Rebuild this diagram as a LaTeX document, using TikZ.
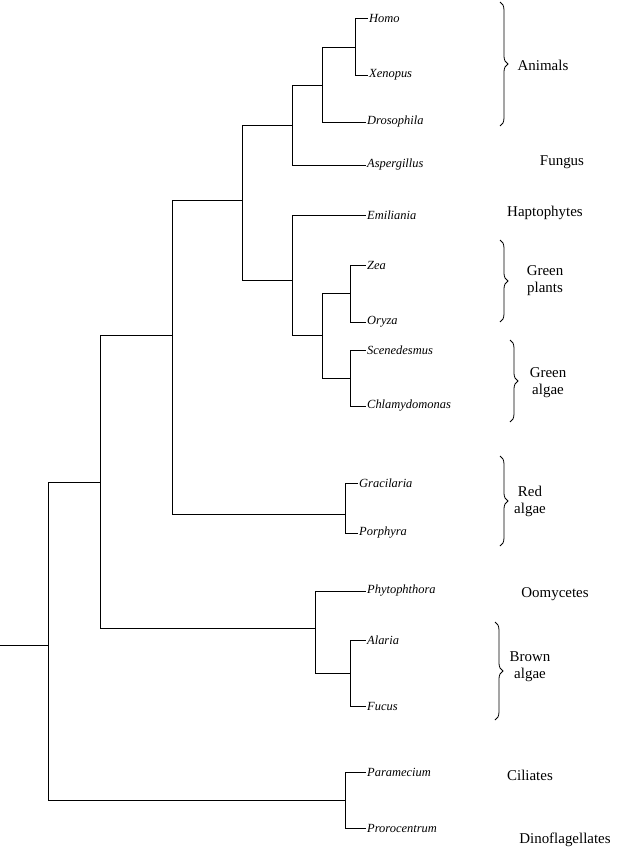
\documentclass[tikz,border=0pt]{standalone}
\usepackage{fontspec}
\setmainfont{Liberation Serif}
\usetikzlibrary{decorations.pathreplacing}
\tikzset{
	taxon/.style={anchor=west, inner sep=1pt, font=\itshape\fontsize{12.5}{14}\selectfont},
	group/.style={align=center, font=\fontsize{15}{17}\selectfont},
	clade/.style={draw, thick, decorate, decoration={brace, amplitude=8pt}},
}
\begin{document}
\begin{tikzpicture}[x=1bp, y=-1bp]
	\useasboundingbox (0,0) rectangle (625,853);
	% leaves
	\node (homo) [taxon] at (368,18) {Homo};
	\node (xeno) [taxon] at (368,75) {Xenopus};
	\node (dros) [taxon] at (366,122) {Drosophila};
	\node (asp) [taxon] at (366,165) {Aspergillus};
	\node (emil) [taxon] at (366,215) {Emiliania};
	\node (zea) [taxon] at (366,265) {Zea};
	\node (oryza) [taxon] at (366,322) {Oryza};
	\node (scen) [taxon] at (366,350) {Scenedesmus};
	\node (chlam) [taxon] at (366,406) {Chlamydomonas};
	\node (grac) [taxon] at (358,483) {Gracilaria};
	\node (porph) [taxon] at (358,533) {Porphyra};
	\node (phyto) [taxon] at (366,591) {Phytophthora};
	\node (alar) [taxon] at (366,640) {Alaria};
	\node (fucus) [taxon] at (366,706) {Fucus};
	\node (param) [taxon] at (366,772) {Paramecium};
	\node (proro) [taxon] at (366,828) {Prorocentrum};
	% internal nodes
	\coordinate (hx) at (355,47);
	\coordinate (anim) at (322,85);
	\coordinate (opis) at (292,125);
	\coordinate (zo) at (350,293);
	\coordinate (sc) at (350,378);
	\coordinate (plant) at (322,335);
	\coordinate (hapt) at (292,280);
	\coordinate (crown) at (242,200);
	\coordinate (red) at (345,514);
	\coordinate (arch) at (172,335);
	\coordinate (brown) at (350,673);
	\coordinate (stram) at (315,628);
	\coordinate (big) at (100,482);
	\coordinate (alv) at (345,800);
	\coordinate (root) at (48,645);
	\coordinate (stub) at (0,645);
	% branches
	\begin{scope}[thick]
		\draw (hx) |- (homo.west); \draw (hx) |- (xeno.west);
		\draw (anim) |- (hx); \draw (anim) |- (dros.west);
		\draw (opis) |- (anim); \draw (opis) |- (asp.west);
		\draw (zo) |- (zea.west); \draw (zo) |- (oryza.west);
		\draw (sc) |- (scen.west); \draw (sc) |- (chlam.west);
		\draw (plant) |- (zo); \draw (plant) |- (sc);
		\draw (hapt) |- (emil.west); \draw (hapt) |- (plant);
		\draw (crown) |- (opis); \draw (crown) |- (hapt);
		\draw (red) |- (grac.west); \draw (red) |- (porph.west);
		\draw (arch) |- (crown); \draw (arch) |- (red);
		\draw (brown) |- (alar.west); \draw (brown) |- (fucus.west);
		\draw (stram) |- (phyto.west); \draw (stram) |- (brown);
		\draw (big) |- (arch); \draw (big) |- (stram);
		\draw (alv) |- (param.west); \draw (alv) |- (proro.west);
		\draw (root) |- (big); \draw (root) |- (alv);
		\draw (stub) -- (root);
	\end{scope}
	% groups
	\draw [clade] (500,2) -- (500,126);
	\node (animals) [group] at (543,65) {Animals};
	\node (fungus) [group] at (562,162) {Fungus};
	\node (haptos) [group] at (545,213) {Haptophytes};
	\draw [clade] (500,240) -- (500,322);
	\node (gplants) [group] at (545,281) {Green\\plants};
	\draw [clade] (510,340) -- (510,422);
	\node (galgae) [group] at (548,383) {Green\\algae};
	\draw [clade] (500,456) -- (500,546);
	\node (ralgae) [group] at (530,501) {Red\\algae};
	\node (oomy) [group] at (555,594) {Oomycetes};
	\draw [clade] (495,622) -- (495,720);
	\node (balgae) [group] at (530,667) {Brown\\algae};
	\node (cili) [group] at (530,775) {Ciliates};
	\node (dino) [group] at (565,840) {Dinoflagellates};
\end{tikzpicture}
\end{document}
